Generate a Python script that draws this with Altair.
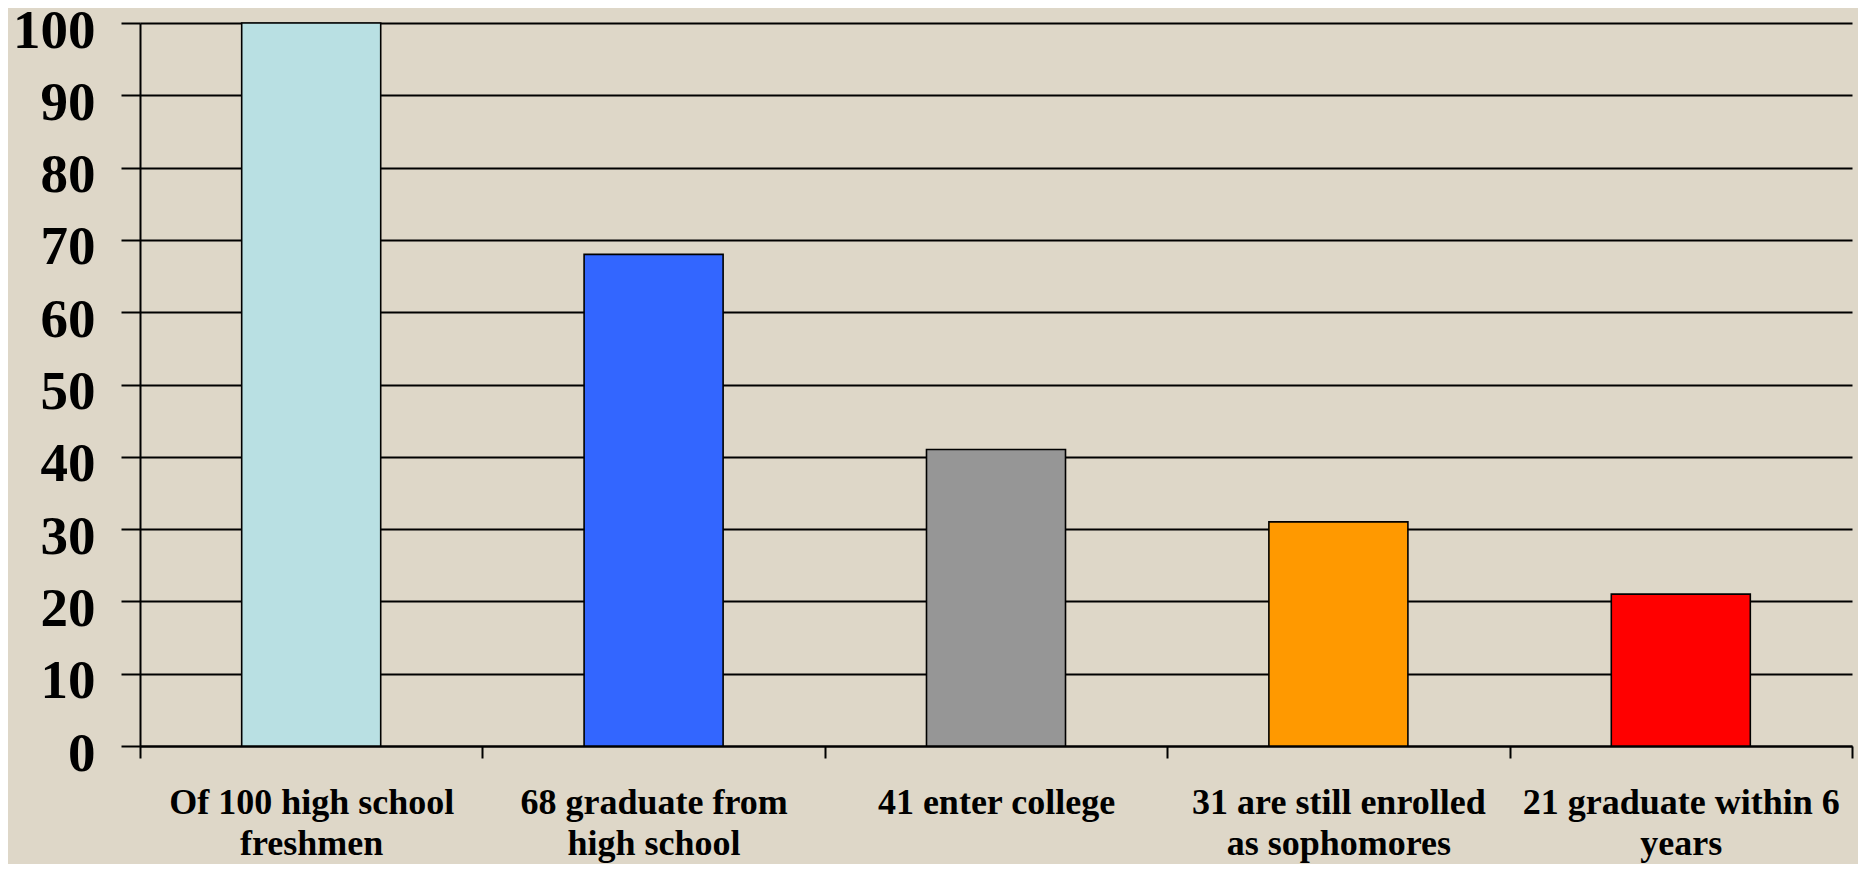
import altair as alt
import pandas as pd

categories = [
    "Of 100 high school|freshmen",
    "68 graduate from|high school",
    "41 enter college",
    "31 are still enrolled|as sophomores",
    "21 graduate within 6|years",
]
values = [100, 68, 41, 31, 21]
colors = ["#B9E0E3", "#3366FF", "#969696", "#FF9900", "#FF0000"]
y_ticks = [0, 10, 20, 30, 40, 50, 60, 70, 80, 90, 100]

df = pd.DataFrame({"cat": categories, "value": values})

font = "Liberation Serif"

chart = (
    alt.Chart(df)
    .mark_bar(width=alt.RelativeBandSize(0.406), stroke="black", strokeWidth=1.6)
    .encode(
        x=alt.X(
            "cat:N",
            sort=categories,
            title=None,
            scale=alt.Scale(paddingInner=0, paddingOuter=0),
            axis=alt.Axis(
                labelExpr="split(datum.label, '|')",
                labelAngle=0,
                labelFont=font,
                labelFontSize=36,
                labelFontWeight="bold",
                labelColor="black",
                labelLineHeight=41,
                labelLimit=600,
                labelPadding=27,
                labelBaseline="top",
                labelOverlap=False,
                tickSize=12,
                tickBand="extent",
                tickColor="black",
                tickWidth=2,
                domainColor="black",
                domainWidth=2,
                grid=False,
            ),
        ),
        y=alt.Y(
            "value:Q",
            title=None,
            scale=alt.Scale(domain=[0, 100], nice=False),
            axis=alt.Axis(
                values=y_ticks,
                labelFont=font,
                labelFontSize=55,
                labelFontWeight="bold",
                labelColor="black",
                labelPadding=26,
                labelBaseline="alphabetic",
                labelOffset=24,
                tickSize=19,
                tickColor="black",
                tickWidth=2,
                domainColor="black",
                domainWidth=2,
                grid=True,
                gridColor="black",
                gridWidth=2,
                gridOpacity=1,
            ),
        ),
        color=alt.Color(
            "cat:N", scale=alt.Scale(domain=categories, range=colors), legend=None
        ),
    )
    .properties(
        width=1712,
        height=723,
        padding={"left": 132, "top": 15, "right": 6, "bottom": 118},
        autosize=alt.AutoSizeParams(type="none"),
        background="#DED7C8",
    )
    .configure_view(stroke=None)
)

chart.save("out.html", embed_options={"renderer": "svg", "actions": False})
